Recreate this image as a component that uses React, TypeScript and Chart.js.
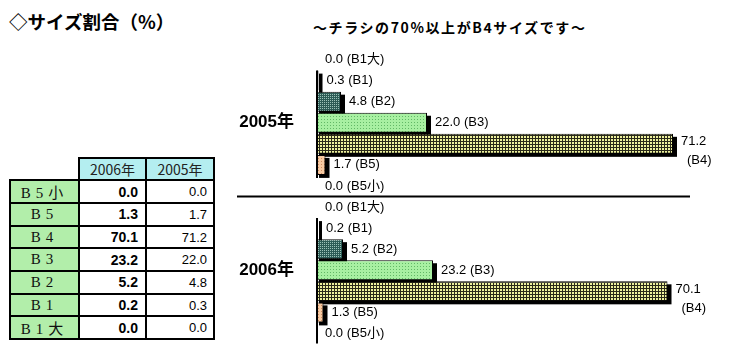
import React, { useEffect, useRef } from 'react';
import { Chart, registerables } from 'chart.js';

Chart.register(...registerables);

// ---- data ----
const years = ['2005年', '2006年'];
const sizes = ['B1大', 'B1', 'B2', 'B3', 'B4', 'B5', 'B5小'];
const values2005 = [0.0, 0.3, 4.8, 22.0, 71.2, 1.7, 0.0];
const values2006 = [0.0, 0.2, 5.2, 23.2, 70.1, 1.3, 0.0];
const tableHeaders = ['2006年', '2005年'];
const titleText = '◇サイズ割合（%）';
const subtitleText = '～チラシの70%以上がB4サイズです～';

type Kind = 'b1' | 'b2' | 'b3' | 'b4' | 'b5' | 'none';
const sizeKinds: Kind[] = ['none', 'b1', 'b2', 'b3', 'b4', 'b5', 'none'];

function makePattern(kind: Kind): CanvasPattern | string {
  const c = document.createElement('canvas');
  const ctx = c.getContext('2d')!;
  if (kind === 'b1' || kind === 'none') return '#1f4f4a';
  if (kind === 'b2') {
    c.width = 2; c.height = 2;
    ctx.fillStyle = '#2c5c56'; ctx.fillRect(0, 0, 2, 2);
    ctx.fillStyle = '#9cc2b8'; ctx.fillRect(0, 0, 1, 1);
  } else if (kind === 'b3') {
    c.width = 3; c.height = 3;
    ctx.fillStyle = '#a8f0a2'; ctx.fillRect(0, 0, 3, 3);
    ctx.fillStyle = '#62b866'; ctx.fillRect(1, 1, 1, 1);
  } else if (kind === 'b4') {
    c.width = 15; c.height = 3;
    ctx.fillStyle = '#eef29e'; ctx.fillRect(0, 0, 15, 3);
    ctx.fillStyle = '#2a2a1a';
    ctx.fillRect(0, 2, 15, 1);
    for (const x of [2, 5, 8, 11, 14]) ctx.fillRect(x, 0, 1, 3);
  } else if (kind === 'b5') {
    c.width = 3; c.height = 3;
    ctx.fillStyle = '#f7caa2'; ctx.fillRect(0, 0, 3, 3);
    ctx.fillStyle = '#d08c62'; ctx.fillRect(1, 1, 1, 1);
  }
  return ctx.createPattern(c, 'repeat')!;
}

const shadowPlugin = {
  id: 'barShadow',
  beforeDatasetsDraw(chart: any) {
    const ctx = chart.ctx;
    ctx.save();
    ctx.fillStyle = '#000';
    chart.data.datasets.forEach((_: any, d: number) => {
      const meta = chart.getDatasetMeta(d);
      meta.data.forEach((el: any) => {
        const { x, base, y, height } = el.getProps(['x', 'base', 'y', 'height'], true);
        if (x - base < 0.5) return;
        ctx.fillRect(base + 2, y - height / 2 + 3, x - base + 2, height);
      });
    });
    ctx.restore();
  },
};

const decorPlugin = {
  id: 'decor',
  afterDatasetsDraw(chart: any) {
    const ctx = chart.ctx;
    const xs = chart.scales.x;
    const ys = chart.scales.y;
    const x0 = xs.getPixelForValue(0);
    ctx.save();
    // axis line per group
    ctx.strokeStyle = '#000';
    ctx.lineWidth = 2;
    years.forEach((_, i) => {
      const first = chart.getDatasetMeta(1).data[i];
      const last = chart.getDatasetMeta(sizes.length - 1).data[i];
      const top = first.y - first.height / 2;
      const bottom = last.y + (i === 0 ? -8 : last.height / 2);
      ctx.beginPath();
      ctx.moveTo(x0, top);
      ctx.lineTo(x0, bottom);
      ctx.stroke();
    });
    // separator between groups
    const sepY = (ys.getPixelForValue(0) + ys.getPixelForValue(1)) / 2;
    ctx.lineWidth = 2;
    ctx.beginPath();
    ctx.moveTo(chart.chartArea.left - 80, sepY);
    ctx.lineTo(chart.chartArea.left + 373, sepY);
    ctx.stroke();
    // value labels
    ctx.fillStyle = '#000';
    ctx.font = '13px "Liberation Sans", "Noto Sans CJK JP", sans-serif';
    ctx.textBaseline = 'middle';
    ctx.textAlign = 'left';
    chart.data.datasets.forEach((ds: any, d: number) => {
      const meta = chart.getDatasetMeta(d);
      meta.data.forEach((el: any, i: number) => {
        const v = ds.data[i] as number;
        const tx = Math.max(el.x + 8, x0 + 5);
        const name = sizes[d];
        if (name === 'B4') {
          ctx.fillText(v.toFixed(1), tx, el.y - 2);
          ctx.fillText('(' + name + ')', tx + 6, el.y + 17);
        } else {
          ctx.fillText(v.toFixed(1) + ' (' + name + ')', tx, el.y);
        }
      });
    });
    ctx.restore();
  },
};

function BarChart() {
  const ref = useRef<HTMLCanvasElement>(null);
  useEffect(() => {
    if (!ref.current) return;
    const datasets = sizes.map((s, k) => ({
      label: s,
      data: [values2005[k], values2006[k]],
      backgroundColor: makePattern(sizeKinds[k]),
      borderColor: '#000',
      borderWidth: 1,
      borderSkipped: false,
      barPercentage: 0.95,
      categoryPercentage: 1.0,
    }));
    const chart = new Chart(ref.current, {
      type: 'bar',
      data: { labels: years, datasets },
      options: {
        indexAxis: 'y',
        animation: false,
        responsive: false,
        maintainAspectRatio: false,
        layout: { padding: { top: 9, bottom: 12, right: 23, left: 0 } },
        plugins: { legend: { display: false }, tooltip: { enabled: false } },
        scales: {
          x: { display: false, min: 0, max: 80 },
          y: {
            grid: { display: false },
            border: { display: false },
            ticks: {
              color: '#000',
              padding: 15,
              font: { size: 17, weight: 'bold', family: '"Liberation Sans", "Noto Sans CJK JP", sans-serif' },
            },
            afterFit: (s: any) => {
              s.width = 87;
              s.paddingTop = 0;
              s.paddingBottom = 0;
            },
          },
        },
      } as any,
      plugins: [shadowPlugin, decorPlugin],
    });
    return () => chart.destroy();
  }, []);
  return (
    <canvas
      ref={ref}
      width={510}
      height={316}
      style={{ position: 'absolute', left: 230, top: 40, width: 510, height: 316 }}
    />
  );
}

const cellBorder = '2px solid #000';

function DataTable() {
  const rowsSizes = [...sizes].reverse();
  const rows2006 = [...values2006].reverse();
  const rows2005 = [...values2005].reverse();
  return (
    <table
      style={{
        position: 'absolute',
        left: 9,
        top: 157,
        borderCollapse: 'collapse',
        tableLayout: 'fixed',
        width: 204,
      }}
    >
      <colgroup>
        <col style={{ width: 69 }} />
        <col style={{ width: 67 }} />
        <col style={{ width: 68 }} />
      </colgroup>
      <tbody>
        <tr style={{ height: 22 }}>
          <td style={{ border: 'none', padding: 0 }} />
          {tableHeaders.map((h) => (
            <td
              key={h}
              style={{
                border: cellBorder,
                background: '#b4eef0',
                textAlign: 'center',
                padding: 0,
                font: '14px "Noto Sans CJK JP", sans-serif',
                color: '#222',
              }}
            >
              {h}
            </td>
          ))}
        </tr>
        {rowsSizes.map((s, r) => (
          <tr key={s} style={{ height: 22.7 }}>
            <td
              style={{
                border: cellBorder,
                background: '#b2eeaa',
                textAlign: 'center',
                padding: 0,
                font: '15px "Liberation Serif", "Noto Sans CJK JP", serif',
                letterSpacing: 5,
                color: '#111',
              }}
            >
              {s}
            </td>
            <td
              style={{
                border: cellBorder,
                textAlign: 'right',
                padding: '0 7px 0 0',
                font: 'bold 14px "Liberation Sans", sans-serif',
                color: '#000',
              }}
            >
              {rows2006[r].toFixed(1)}
            </td>
            <td
              style={{
                border: cellBorder,
                textAlign: 'right',
                padding: '0 6px 0 0',
                font: '13px "Liberation Sans", sans-serif',
                color: '#000',
              }}
            >
              {rows2005[r].toFixed(1)}
            </td>
          </tr>
        ))}
      </tbody>
    </table>
  );
}

export default function App() {
  return (
    <div
      style={{
        position: 'fixed',
        left: 0,
        top: 0,
        width: 740,
        height: 360,
        background: '#fff',
        overflow: 'hidden',
      }}
    >
      <div
        style={{
          position: 'absolute',
          left: 9,
          top: 9,
          font: 'bold 18.5px "Noto Sans CJK JP", sans-serif',
          color: '#000',
          whiteSpace: 'nowrap',
          lineHeight: '24px',
        }}
      >
        {titleText}
      </div>
      <div
        style={{
          position: 'absolute',
          left: 313,
          top: 17,
          font: 'bold 14px "Noto Sans CJK JP", sans-serif',
          letterSpacing: 1.6,
          color: '#000',
          whiteSpace: 'nowrap',
          lineHeight: '20px',
        }}
      >
        {subtitleText}
      </div>
      <DataTable />
      <BarChart />
    </div>
  );
}
